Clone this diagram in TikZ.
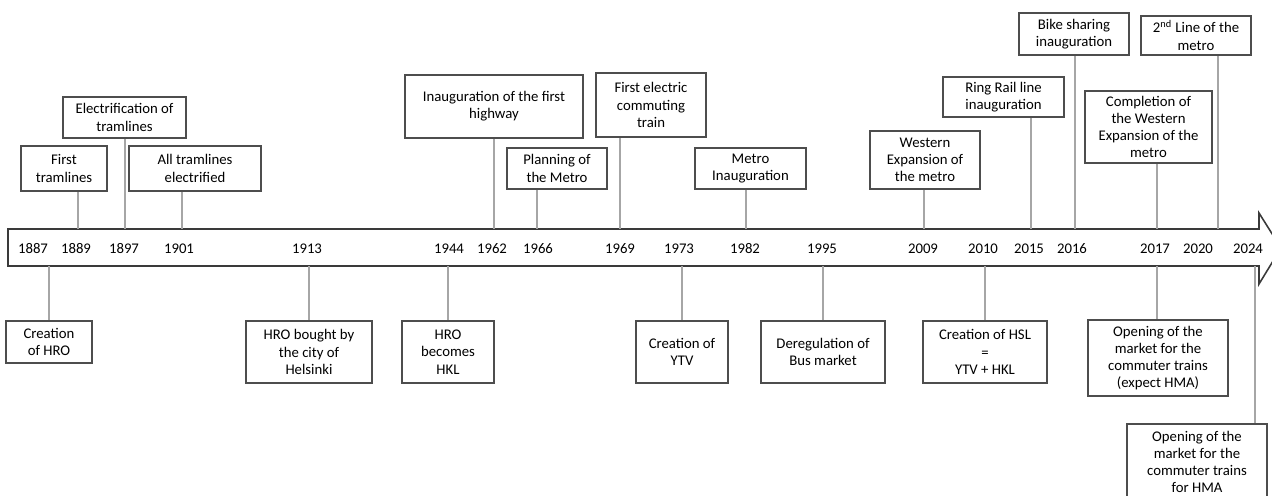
\documentclass[tikz,border=0pt]{standalone}
\usepackage{fontspec}
\setmainfont{Carlito}

\definecolor{boxline}{HTML}{4D4D4D}
\definecolor{barline}{HTML}{3A3A3A}
\definecolor{tickline}{HTML}{A6A6A6}

\tikzset{
    event/.style 2 args={draw=boxline, line width=0.6pt, fill=white, align=center,
        inner sep=1pt, minimum width=#1*0.02cm, minimum height=#2*0.02cm},
    year/.style={inner sep=0pt},
    link/.style={draw=tickline, line width=0.6pt},
}

\begin{document}
\begin{tikzpicture}[x=0.02cm, y=-0.02cm,
        every node/.style={font=\fontsize{8.4}{9.8}\selectfont}]
    \useasboundingbox (0,0) rectangle (1272,495);

    % the time bar, open arrow at the right end
    \draw[line width=0.9pt, draw=barline]
        (8,229) -- (1259,229) -- (1259,213) -- (1281,248)
        -- (1259,284) -- (1259,266) -- (8,266) -- cycle;

    % years
    \path   (33,249) node[year] (y1887) {1887}
            (76,249) node[year] (y1889) {1889}
            (124,249) node[year] (y1897) {1897}
            (179,249) node[year] (y1901) {1901}
            (307,249) node[year] (y1913) {1913}
            (449,249) node[year] (y1944) {1944}
            (492,249) node[year] (y1962) {1962}
            (538,249) node[year] (y1966) {1966}
            (620,249) node[year] (y1969) {1969}
            (679,249) node[year] (y1973) {1973}
            (745,249) node[year] (y1982) {1982}
            (822,249) node[year] (y1995) {1995}
            (923,249) node[year] (y2009) {2009}
            (983,249) node[year] (y2010) {2010}
            (1029,249) node[year] (y2015) {2015}
            (1072,249) node[year] (y2016) {2016}
            (1155,249) node[year] (y2017) {2017}
            (1198,249) node[year] (y2020) {2020}
            (1248,249) node[year] (y2024) {2024};

    % where the links meet the bar
    \path   (78,229) coordinate (t1889)
            (125,229) coordinate (t1897)
            (182,229) coordinate (t1901)
            (494,229) coordinate (t1962)
            (537,229) coordinate (t1966)
            (620,229) coordinate (t1969)
            (746,229) coordinate (t1982)
            (924,229) coordinate (t2009)
            (1031,229) coordinate (t2015)
            (1075,229) coordinate (t2016)
            (1157,229) coordinate (t2017)
            (1218,229) coordinate (t2020)
            (49,266) coordinate (b1887)
            (309,266) coordinate (b1913)
            (448,266) coordinate (b1944)
            (682,266) coordinate (b1973)
            (823,266) coordinate (b1995)
            (985,266) coordinate (b2010)
            (1157,266) coordinate (b2017)
            (1255,266) coordinate (b2024);

    % events above the bar
    \draw   (64,168.5) node[event={86}{45}] (tram) {First\\tramlines}
            (124.5,117.5) node[event={123}{41}] (electr) {Electrification of\\tramlines}
            (195,168.5) node[event={132}{45}] (alltram) {All tramlines\\electrified}
            (494,106.5) node[event={178}{63}] (highway) {Inauguration of the first\\highway}
            (557,168.5) node[event={100}{41}] (plan) {Planning of\\the Metro}
            (651,105) node[event={110}{64}] (etrain) {First electric\\commuting\\train}
            (750.5,168.5) node[event={111}{41}] (metro) {Metro\\Inauguration}
            (925,160) node[event={110}{58}] (west) {Western\\Expansion of\\the metro}
            (1003.5,97) node[event={121}{40}] (ring) {Ring Rail line\\inauguration}
            (1074,34) node[event={110}{42}] (bike) {Bike sharing\\inauguration}
            (1148.5,127) node[event={127}{72}] (westdone) {Completion of\\the Western\\Expansion of the\\metro}
            (1196,35.5) node[event={110}{39}] (line2) {2\textsuperscript{nd} Line of the\\metro}

            (t1889) edge[link] (t1889 |- tram.south)
            (t1897) edge[link] (t1897 |- electr.south)
            (t1901) edge[link] (t1901 |- alltram.south)
            (t1962) edge[link] (t1962 |- highway.south)
            (t1966) edge[link] (t1966 |- plan.south)
            (t1969) edge[link] (t1969 |- etrain.south)
            (t1982) edge[link] (t1982 |- metro.south)
            (t2009) edge[link] (t2009 |- west.south)
            (t2015) edge[link] (t2015 |- ring.south)
            (t2016) edge[link] (t2016 |- bike.south)
            (t2017) edge[link] (t2017 |- westdone.south)
            (t2020) edge[link] (t2020 |- line2.south)
            ;

    % events below the bar
    \draw   (49,342) node[event={86}{42}] (hro) {Creation\\of HRO}
            (309,352) node[event={126}{62}] (bought) {HRO bought by\\the city of\\Helsinki}
            (448,352) node[event={92}{62}] (hkl) {HRO\\becomes\\HKL}
            (682,352) node[event={92}{62}] (ytv) {Creation of\\YTV}
            (823,352) node[event={124}{62}] (bus) {Deregulation of\\Bus market}
            (985,352) node[event={124}{62}] (hsl) {Creation of HSL\\=\\YTV + HKL}
            (1158,358) node[event={140}{76}] (openA) {Opening of the\\market for the\\commuter trains\\(expect HMA)}
            (1197,462) node[event={140}{76}] (openB) {Opening of the\\market for the\\commuter trains\\for HMA}

            (b1887) edge[link] (b1887 |- hro.north)
            (b1913) edge[link] (b1913 |- bought.north)
            (b1944) edge[link] (b1944 |- hkl.north)
            (b1973) edge[link] (b1973 |- ytv.north)
            (b1995) edge[link] (b1995 |- bus.north)
            (b2010) edge[link] (b2010 |- hsl.north)
            (b2017) edge[link] (b2017 |- openA.north)
            (b2024) edge[link] (b2024 |- openB.north)
            ;
\end{tikzpicture}
\end{document}
